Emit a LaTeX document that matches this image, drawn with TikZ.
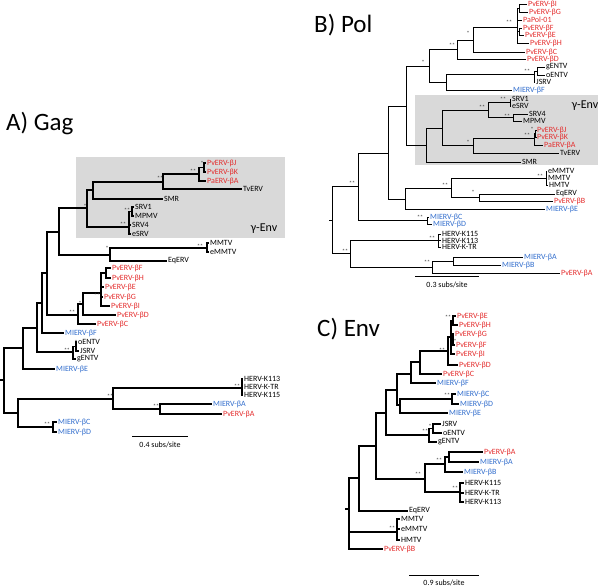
\documentclass[tikz,border=0pt]{standalone}
\usepackage{fontspec}
\setmainfont{Carlito}
\definecolor{pvred}{RGB}{228,45,45}
\definecolor{mblue}{RGB}{50,110,205}
\definecolor{boxgray}{RGB}{217,217,217}
\tikzset{
  lbl/.style={anchor=west, inner sep=1pt, font=\fontsize{8}{9}\selectfont, text=black},
  rd/.style={text=pvred},
  bl/.style={text=mblue},
  mk/.style={inner sep=0pt, font=\fontsize{6}{6}\selectfont, text=black!80},
  ttl/.style={anchor=west, inner sep=0pt, font=\fontsize{25}{30}\selectfont},
  genv/.style={inner sep=0pt, font=\fontsize{12}{14}\selectfont},
  sbar/.style={line width=1pt},
  slbl/.style={inner sep=0pt, font=\fontsize{8}{9}\selectfont}
}
\newcommand\kids[2]{\foreach \kk in {#2}{\draw (#1) |- (\kk);}}
\begin{document}
\begin{tikzpicture}[x=1pt,y=-1pt]
\useasboundingbox (0,0) rectangle (600,588);
% ================= A) Gag =================
\fill[boxgray] (76,157) rectangle (285,238);
\node[genv] (A-genv) at (264,229) {γ-Env};
\node[ttl] (A-title) at (6,124) {A) Gag};
\coordinate (a0s) at (0,380);
\coordinate (a0) at (4,380);
\coordinate (a1) at (23,348);
\coordinate (a2) at (37,328);
\coordinate (a3) at (42,303);
\coordinate (a4) at (47,273);
\coordinate (a5) at (59,232);
\coordinate (a6) at (87,208);
\coordinate (a8) at (93,190);
\coordinate (a9) at (163,182);
\coordinate (a10) at (199,174);
\coordinate (a11) at (204,167.5);
\coordinate (aSRV) at (129,227);
\coordinate (aS1) at (132,211.5);
\coordinate (a7) at (110,255);
\coordinate (aMM) at (207,248);
\coordinate (aPv) at (78,315);
\coordinate (aP1) at (83,304);
\coordinate (aP2) at (101,293);
\coordinate (aP4) at (106,273);
\coordinate (aENTV) at (73,352);
\coordinate (aE1) at (76,346.5);
\coordinate (aL) at (18,413);
\coordinate (aL1) at (113,399);
\coordinate (aHERV) at (242,388);
\coordinate (aL2) at (160,409);
\coordinate (aCD) at (53,427);
\node[lbl,rd] (A-J) at (206,163) {PvERV-βJ};
\node[lbl,rd] (A-K) at (206,172) {PvERV-βK};
\node[lbl,rd] (A-PaA) at (206,181) {PaERV-βA};
\node[lbl] (A-Tv) at (242,189) {TvERV};
\node[lbl] (A-SMR) at (163,199) {SMR};
\node[lbl] (A-SRV1) at (134,207) {SRV1};
\node[lbl] (A-MPMV) at (134,216) {MPMV};
\node[lbl] (A-SRV4) at (131,225) {SRV4};
\node[lbl] (A-eSRV) at (131,234) {eSRV};
\node[lbl] (A-MMTV) at (209,243) {MMTV};
\node[lbl] (A-eMMTV) at (209,252) {eMMTV};
\node[lbl] (A-Eq) at (167,261) {EqERV};
\node[lbl,rd] (A-F) at (111,268) {PvERV-βF};
\node[lbl,rd] (A-H) at (111,278) {PvERV-βH};
\node[lbl,rd] (A-E) at (104,287) {PvERV-βE};
\node[lbl,rd] (A-G) at (103,297) {PvERV-βG};
\node[lbl,rd] (A-I) at (110,306) {PvERV-βI};
\node[lbl,rd] (A-D) at (116,315) {PvERV-βD};
\node[lbl,rd] (A-C) at (96,324) {PvERV-βC};
\node[lbl,bl] (A-mF) at (64,333) {MIERV-βF};
\node[lbl] (A-oE) at (77,342) {oENTV};
\node[lbl] (A-JS) at (79,351) {JSRV};
\node[lbl] (A-gE) at (76,359) {gENTV};
\node[lbl,bl] (A-mE) at (55,369) {MIERV-βE};
\node[lbl] (A-K113) at (243,379) {HERV-K113};
\node[lbl] (A-KTR) at (243,387) {HERV-K-TR};
\node[lbl] (A-K115) at (243,395) {HERV-K115};
\node[lbl,bl] (A-mA) at (212,404) {MIERV-βA};
\node[lbl,rd] (A-pA) at (222,414) {PvERV-βA};
\node[lbl,bl] (A-mC) at (57,422) {MIERV-βC};
\node[lbl,bl] (A-mD) at (57,432) {MIERV-βD};
\begin{scope}[line width=1.3pt]
\draw (a0s) -- (a0);
\kids{a0}{a1,aL}
\kids{a1}{a2,A-mE.west}
\kids{a2}{a3,aENTV}
\kids{a3}{a4,A-mF.west}
\kids{a4}{a5,aPv}
\kids{a5}{a6,a7}
\kids{a6}{a8,aSRV}
\kids{a8}{a9,A-SMR.west}
\kids{a9}{a10,A-Tv.west}
\kids{a10}{a11,A-PaA.west}
\kids{a11}{A-J.west,A-K.west}
\kids{aSRV}{aS1,A-SRV4.west,A-eSRV.west}
\kids{aS1}{A-SRV1.west,A-MPMV.west}
\kids{a7}{aMM,A-Eq.west}
\kids{aMM}{A-MMTV.west,A-eMMTV.west}
\kids{aPv}{aP1,A-C.west}
\kids{aP1}{aP2,A-D.west}
\kids{aP2}{aP4,A-E.west,A-G.west,A-I.west}
\kids{aP4}{A-F.west,A-H.west}
\kids{aENTV}{aE1,A-gE.west}
\kids{aE1}{A-oE.west,A-JS.west}
\kids{aL}{aL1,aCD}
\kids{aL1}{aHERV,aL2}
\kids{aHERV}{A-K113.west,A-KTR.west,A-K115.west}
\kids{aL2}{A-mA.west,A-pA.west}
\kids{aCD}{A-mC.west,A-mD.west}
\end{scope}
\node[mk] (mA1) at (202,163) {*};
\node[mk] (mA2) at (193,171) {**};
\node[mk] (mA3) at (160,178) {**};
\node[mk] (mA4) at (85,206) {*};
\node[mk] (mA5) at (127,210) {**};
\node[mk] (mA6) at (123,224) {**};
\node[mk] (mA7) at (107,248) {*};
\node[mk] (mA8) at (200,246) {**};
\node[mk] (mA9) at (97,295) {**};
\node[mk] (mA10) at (80,303) {*};
\node[mk] (mA11) at (72,312) {**};
\node[mk] (mA12) at (76,342) {*};
\node[mk] (mA13) at (67,350) {**};
\node[mk] (mA14) at (110,396) {**};
\node[mk] (mA15) at (237,386) {**};
\node[mk] (mA16) at (156,406) {**};
\node[mk] (mA17) at (47,424) {**};
\coordinate (A-sb1) at (132,436);
\coordinate (A-sb2) at (188,436);
\draw[sbar] (A-sb1) -- (A-sb2);
\node[slbl] (A-sbl) at (160,445) {0.4 subs/site};
% ================= B) Pol =================
\fill[boxgray] (415,95) rectangle (598,165);
\node[genv] (B-genv) at (585,106) {γ-Env};
\node[ttl] (B-title) at (314,25) {B) Pol};
\coordinate (b0s) at (329,220);
\coordinate (b0) at (332,220);
\coordinate (b1) at (358,186);
\coordinate (b3) at (388,153);
\coordinate (b4) at (406,106);
\coordinate (b6) at (429,66);
\coordinate (b8) at (457,49);
\coordinate (b10) at (473,40);
\coordinate (b11) at (517,27);
\coordinate (b12) at (519,8);
\coordinate (b13) at (519,31.5);
\coordinate (b9) at (446,82);
\coordinate (bENTV) at (534,74.5);
\coordinate (bE1) at (537,71);
\coordinate (b7) at (426,145);
\coordinate (b14) at (442,128);
\coordinate (b15) at (488,110);
\coordinate (bS1) at (510,102.5);
\coordinate (bS2) at (513,117.5);
\coordinate (b16) at (473,145);
\coordinate (b17) at (534,138);
\coordinate (b18) at (535.5,133.5);
\coordinate (b5) at (405,199);
\coordinate (b19) at (451,188);
\coordinate (bMM) at (546,178);
\coordinate (b20) at (479,197.5);
\coordinate (bCD) at (427,220.5);
\coordinate (b2) at (350,253);
\coordinate (bHERV) at (438,240);
\coordinate (b21) at (432,267);
\coordinate (b22) at (453,261);
\node[lbl,rd] (B-I) at (527,4.5) {PvERV-βI};
\node[lbl,rd] (B-G) at (528,12) {PvERV-βG};
\node[lbl,rd] (B-Pa) at (522,20) {PaPol-01};
\node[lbl,rd] (B-F) at (522,28) {PvERV-βF};
\node[lbl,rd] (B-E) at (524,35) {PvERV-βE};
\node[lbl,rd] (B-H) at (529,43) {PvERV-βH};
\node[lbl,rd] (B-C) at (525,52) {PvERV-βC};
\node[lbl,rd] (B-D) at (526,59) {PvERV-βD};
\node[lbl] (B-gE) at (545,67) {gENTV};
\node[lbl] (B-oE) at (545,75) {oENTV};
\node[lbl] (B-JS) at (535,82) {JSRV};
\node[lbl,bl] (B-mF) at (512,90.5) {MIERV-βF};
\node[lbl] (B-SRV1) at (511,99) {SRV1};
\node[lbl] (B-eSRV) at (511,106) {eSRV};
\node[lbl] (B-SRV4) at (528,114) {SRV4};
\node[lbl] (B-MPMV) at (522,121) {MPMV};
\node[lbl,rd] (B-J) at (536,130) {PvERV-βJ};
\node[lbl,rd] (B-K) at (536,137) {PvERV-βK};
\node[lbl,rd] (B-PaA) at (543,145) {PaERV-βA};
\node[lbl] (B-Tv) at (559,153) {TvERV};
\node[lbl] (B-SMR) at (521,162) {SMR};
\node[lbl] (B-eMM) at (547,171) {eMMTV};
\node[lbl] (B-MM) at (547,177.5) {MMTV};
\node[lbl] (B-HM) at (548,185) {HMTV};
\node[lbl] (B-Eq) at (555,194) {EqERV};
\node[lbl,rd] (B-B) at (553,201) {PvERV-βB};
\node[lbl,bl] (B-mE) at (545,209) {MIERV-βE};
\node[lbl,bl] (B-mC) at (429,217) {MIERV-βC};
\node[lbl,bl] (B-mD) at (432,224) {MIERV-βD};
\node[lbl] (B-K115) at (441,234) {HERV-K115};
\node[lbl] (B-K113) at (441,240.5) {HERV-K113};
\node[lbl] (B-KTR) at (441,247) {HERV-K-TR};
\node[lbl,bl] (B-mA) at (523,257) {MIERV-βA};
\node[lbl,bl] (B-mB) at (501,265) {MIERV-βB};
\node[lbl,rd] (B-pA) at (560,273) {PvERV-βA};
\begin{scope}[line width=0.9pt]
\draw (b0s) -- (b0);
\kids{b0}{b1,b2}
\kids{b1}{b3,bCD}
\kids{b3}{b4,b5}
\kids{b4}{b6,b7}
\kids{b6}{b8,b9}
\kids{b8}{b10,B-D.west}
\kids{b10}{b11,B-C.west}
\kids{b11}{b12,B-Pa.west,b13,B-H.west}
\kids{b12}{B-I.west,B-G.west}
\kids{b13}{B-F.west,B-E.west}
\kids{b9}{bENTV,B-mF.west}
\kids{bENTV}{bE1,B-JS.west}
\kids{bE1}{B-gE.west,B-oE.west}
\kids{b7}{b14,B-SMR.west}
\kids{b14}{b15,b16}
\kids{b15}{bS1,bS2}
\kids{bS1}{B-SRV1.west,B-eSRV.west}
\kids{bS2}{B-SRV4.west,B-MPMV.west}
\kids{b16}{b17,B-Tv.west}
\kids{b17}{b18,B-PaA.west}
\kids{b18}{B-J.west,B-K.west}
\kids{b5}{b19,B-mE.west}
\kids{b19}{bMM,b20}
\kids{bMM}{B-eMM.west,B-MM.west,B-HM.west}
\kids{b20}{B-Eq.west,B-B.west}
\kids{bCD}{B-mC.west,B-mD.west}
\kids{b2}{bHERV,b21}
\kids{bHERV}{B-K115.west,B-K113.west,B-KTR.west}
\kids{b21}{b22,B-pA.west}
\kids{b22}{B-mA.west,B-mB.west}
\end{scope}
\node[mk] (mB1) at (509,22) {**};
\node[mk] (mB2) at (468,33) {*};
\node[mk] (mB3) at (452,45) {**};
\node[mk] (mB4) at (423,62) {*};
\node[mk] (mB5) at (527,71) {**};
\node[mk] (mB6) at (503,99) {**};
\node[mk] (mB7) at (482,107) {**};
\node[mk] (mB8) at (507,116) {**};
\node[mk] (mB9) at (532,129) {*};
\node[mk] (mB10) at (527,135) {**};
\node[mk] (mB11) at (468,142) {*};
\node[mk] (mB12) at (352,183) {**};
\node[mk] (mB13) at (540,176) {**};
\node[mk] (mB14) at (445,185) {**};
\node[mk] (mB15) at (473,192) {*};
\node[mk] (mB16) at (420,217) {**};
\node[mk] (mB17) at (432,238) {**};
\node[mk] (mB18) at (345,251) {**};
\node[mk] (mB19) at (427,262) {**};
\coordinate (B-sb1) at (415,277);
\coordinate (B-sb2) at (479,277);
\draw[sbar] (B-sb1) -- (B-sb2);
\node[slbl] (B-sbl) at (447,285) {0.3 subs/site};
% ================= C) Env =================
\node[ttl] (C-title) at (317,329) {C) Env};
\coordinate (c0s) at (345,509);
\coordinate (c0) at (349,509);
\coordinate (c1) at (359,478);
\coordinate (c2) at (376,446);
\coordinate (c3) at (386,413);
\coordinate (c5) at (397,390);
\coordinate (c6) at (411,374);
\coordinate (c8) at (420,362);
\coordinate (c9) at (448,351);
\coordinate (c10) at (451,337);
\coordinate (cEH) at (453,320.5);
\coordinate (c11) at (453,339.5);
\coordinate (c7) at (400,405);
\coordinate (cCD) at (452,399);
\coordinate (cENTV) at (429,435);
\coordinate (cE1) at (433,428.5);
\coordinate (c4) at (425,479);
\coordinate (c12) at (445,464);
\coordinate (c13) at (449,457);
\coordinate (cHERV) at (460,492);
\coordinate (cMM) at (397,532);
\node[lbl,rd] (C-E) at (456,316) {PvERV-βE};
\node[lbl,rd] (C-H) at (458,325) {PvERV-βH};
\node[lbl,rd] (C-G) at (454,334) {PvERV-βG};
\node[lbl,rd] (C-F) at (455,345) {PvERV-βF};
\node[lbl,rd] (C-I) at (455,354) {PvERV-βI};
\node[lbl,rd] (C-D) at (458,365) {PvERV-βD};
\node[lbl,rd] (C-C) at (442,374) {PvERV-βC};
\node[lbl,bl] (C-mF) at (436,383) {MIERV-βF};
\node[lbl,bl] (C-mC) at (456,394) {MIERV-βC};
\node[lbl,bl] (C-mD) at (459,404) {MIERV-βD};
\node[lbl,bl] (C-mE) at (448,413) {MIERV-βE};
\node[lbl] (C-JS) at (441,424) {JSRV};
\node[lbl] (C-oE) at (442,433) {oENTV};
\node[lbl] (C-gE) at (437,442) {gENTV};
\node[lbl,rd] (C-pA) at (483,452) {PvERV-βA};
\node[lbl,bl] (C-mA) at (479,462) {MIERV-βA};
\node[lbl,bl] (C-mB) at (463,472) {MIERV-βB};
\node[lbl] (C-K115) at (464,483) {HERV-K115};
\node[lbl] (C-KTR) at (464,493) {HERV-K-TR};
\node[lbl] (C-K113) at (464,502) {HERV-K113};
\node[lbl] (C-Eq) at (408,511) {EqERV};
\node[lbl] (C-MM) at (400,519) {MMTV};
\node[lbl] (C-eMM) at (400,529) {eMMTV};
\node[lbl] (C-HM) at (400,540) {HMTV};
\node[lbl,rd] (C-B) at (383,549) {PvERV-βB};
\begin{scope}[line width=1.8pt]
\draw (c0s) -- (c0);
\kids{c0}{c1,cMM,C-B.west}
\kids{c1}{c2,C-Eq.west}
\kids{c2}{c3,c4}
\kids{c3}{c5,cENTV}
\kids{c5}{c6,c7}
\kids{c6}{c8,C-mF.west}
\kids{c8}{c9,C-C.west}
\kids{c9}{c10,C-D.west}
\kids{c10}{cEH,c11,C-I.west}
\kids{cEH}{C-E.west,C-H.west}
\kids{c11}{C-G.west,C-F.west}
\kids{c7}{cCD,C-mE.west}
\kids{cCD}{C-mC.west,C-mD.west}
\kids{cENTV}{cE1,C-gE.west}
\kids{cE1}{C-JS.west,C-oE.west}
\kids{c4}{c12,cHERV}
\kids{c12}{c13,C-mB.west}
\kids{c13}{C-pA.west,C-mA.west}
\kids{cHERV}{C-K115.west,C-KTR.west,C-K113.west}
\kids{cMM}{C-MM.west,C-eMM.west,C-HM.west}
\end{scope}
\node[mk] (mC1) at (448,317) {**};
\node[mk] (mC2) at (455,341) {*};
\node[mk] (mC3) at (442,350) {**};
\node[mk] (mC4) at (447,395) {**};
\node[mk] (mC5) at (430,426) {*};
\node[mk] (mC6) at (425,431) {**};
\node[mk] (mC7) at (439,460) {**};
\node[mk] (mC8) at (418,474) {**};
\node[mk] (mC9) at (455,488) {**};
\node[mk] (mC10) at (392,528) {**};
\coordinate (C-sb1) at (409,575);
\coordinate (C-sb2) at (479,575);
\draw[sbar] (C-sb1) -- (C-sb2);
\node[slbl] (C-sbl) at (444,583) {0.9 subs/site};
\end{tikzpicture}
\end{document}
